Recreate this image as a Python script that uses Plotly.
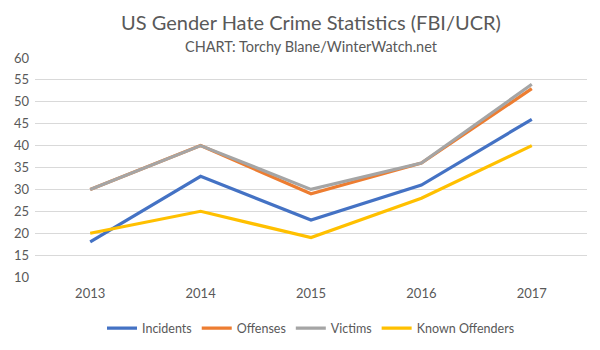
import plotly.graph_objects as go

years = ["2013", "2014", "2015", "2016", "2017"]
incidents = [18, 33, 23, 31, 46]
offenses = [30, 40, 29, 36, 53]
victims = [30, 40, 30, 36, 54]
known_offenders = [20, 25, 19, 28, 40]

series = [
    ("Incidents", incidents, "#4472C4"),
    ("Offenses", offenses, "#ED7D31"),
    ("Victims", victims, "#A5A5A5"),
    ("Known Offenders", known_offenders, "#FFC000"),
]

font_family = "Lato, 'Open Sans', sans-serif"
fig = go.Figure()
for name, vals, color in series:
    fig.add_trace(go.Scatter(x=years, y=vals, name=name, mode="lines",
                             line=dict(color=color, width=3.2)))

fig.update_layout(
    width=600, height=350,
    margin=dict(l=35, r=13, t=58, b=73, autoexpand=False),
    paper_bgcolor="white", plot_bgcolor="white",
    font=dict(family=font_family, color="#595959", size=13),
    legend=dict(orientation="h", x=0.5, xanchor="center", y=-0.235, yanchor="middle",
                font=dict(size=12.5), itemwidth=30),
    showlegend=True,
    annotations=[
        dict(text="US Gender Hate Crime Statistics (FBI/UCR)", xref="paper", yref="paper",
             x=0.5, y=1, xanchor="center", yanchor="middle", yshift=36, showarrow=False,
             font=dict(size=20, family=font_family, color="#595959")),
        dict(text="CHART: Torchy Blane/WinterWatch.net", xref="paper", yref="paper",
             x=0.5, y=1, xanchor="center", yanchor="middle", yshift=12, showarrow=False,
             font=dict(size=14.5, family=font_family, color="#595959")),
    ],
)
fig.update_xaxes(range=[-0.5, 4.5], showgrid=False, showline=False, zeroline=False,
                 ticks="", tickfont=dict(size=13), ticklabelstandoff=7)
fig.update_yaxes(range=[10, 60], dtick=5, showgrid=True, gridcolor="#D9D9D9",
                 gridwidth=1, zeroline=False, showline=False, ticks="",
                 tickfont=dict(size=13), ticklabelstandoff=5)

fig.write_html("out.html")
